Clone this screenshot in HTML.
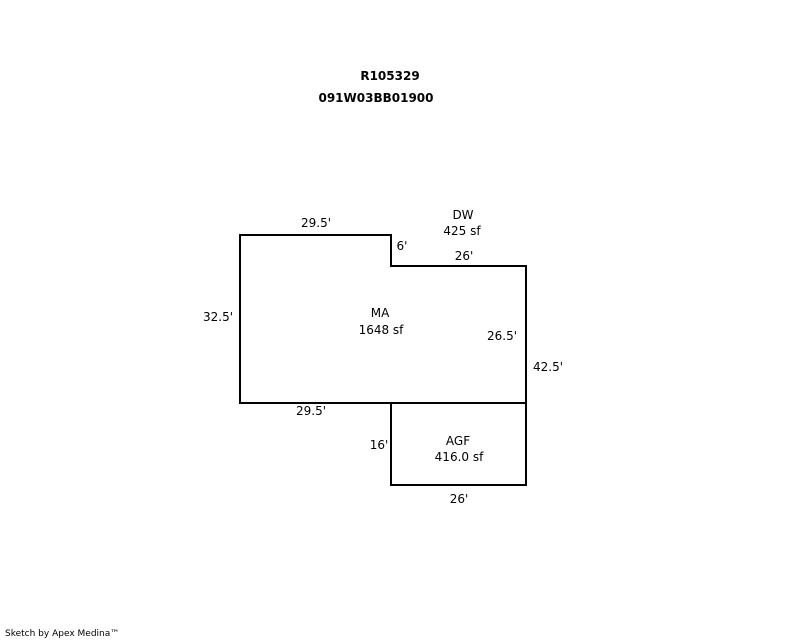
<!DOCTYPE html>
<html><head><meta charset="utf-8"><style>
html,body{margin:0;padding:0;background:#fff;}
svg{display:block;}
text{font-family:"DejaVu Sans","Liberation Sans",sans-serif;font-size:12px;fill:#000;}
</style></head><body>
<svg width="800" height="640" viewBox="0 0 800 640" xmlns="http://www.w3.org/2000/svg">
<g fill="none" stroke="#000" stroke-width="2" stroke-linejoin="miter">
<polygon points="240,235 391,235 391,266 526,266 526,403 240,403"/>
<polygon points="391,403 526,403 526,485 391,485"/>
</g>
<g text-anchor="middle">
<text x="390" y="80" font-weight="bold">R105329</text>
<text x="376" y="102" font-weight="bold">091W03BB01900</text>
<text x="316" y="227">29.5'</text>
<text x="463" y="219">DW</text>
<text x="462" y="235">425 sf</text>
<text x="402" y="250">6'</text>
<text x="464" y="260">26'</text>
<text x="218" y="321">32.5'</text>
<text x="380" y="317">MA</text>
<text x="381" y="334">1648 sf</text>
<text x="502" y="340">26.5'</text>
<text x="548" y="371">42.5'</text>
<text x="311" y="415">29.5'</text>
<text x="379" y="449">16'</text>
<text x="458" y="445">AGF</text>
<text x="459" y="461">416.0 sf</text>
<text x="459" y="503">26'</text>
</g>
<text x="5" y="636" style="font-size:9px">Sketch by Apex Medina™</text>
</svg>
</body></html>
